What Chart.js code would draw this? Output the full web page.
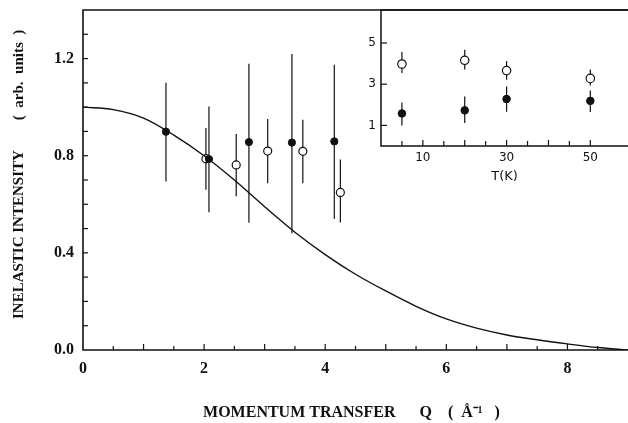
<!DOCTYPE html>
<html>
<head>
<meta charset="utf-8">
<script src="https://cdn.jsdelivr.net/npm/chart.js@4.4.0/dist/chart.umd.min.js"></script>
<style>
  html, body { margin: 0; padding: 0; background: #fff; }
  #marco { position: relative; width: 628px; height: 423px; }
  #principal { position: absolute; left: 0; top: 0; }
  #recuadro { position: absolute; left: 345px; top: 0; }
</style>
</head>
<body>
<div id="marco">
  <canvas id="principal" width="628" height="423"></canvas>
  <canvas id="recuadro" width="283" height="200"></canvas>
</div>
<script>
// Curva teórica
const Q_CURVA = [0, 0.5, 1, 1.5, 2, 2.5, 3, 3.5, 4, 4.5, 5, 5.5, 6, 6.5, 7, 7.5, 8, 8.5, 9];
const I_CURVA = [1.0, 0.99, 0.955, 0.885, 0.80, 0.70, 0.59, 0.485, 0.393, 0.312, 0.243, 0.18, 0.128, 0.09, 0.062, 0.042, 0.025, 0.01, 0.0];

// Puntos llenos
const Q_LLENOS = [1.37, 2.08, 2.74, 3.45, 4.15];
const I_LLENOS = [0.899, 0.786, 0.856, 0.854, 0.859];
const LLENOS_MIN = [0.694, 0.567, 0.524, 0.481, 0.539];
const LLENOS_MAX = [1.100, 1.003, 1.179, 1.219, 1.175];

// Puntos abiertos
const Q_ABIERTOS = [2.03, 2.53, 3.05, 3.63, 4.25];
const I_ABIERTOS = [0.788, 0.762, 0.819, 0.818, 0.649];
const ABIERTOS_MIN = [0.660, 0.633, 0.687, 0.687, 0.525];
const ABIERTOS_MAX = [0.914, 0.889, 0.951, 0.948, 0.784];

// Recuadro: dependencia con la temperatura
const T_RECUADRO = [5, 20, 30, 50];
const T_ABIERTOS = [3.98, 4.16, 3.66, 3.28];
const T_ABIERTOS_MIN = [3.54, 3.71, 3.22, 2.94];
const T_ABIERTOS_MAX = [4.56, 4.67, 4.12, 3.71];
const T_LLENOS = [1.58, 1.73, 2.28, 2.19];
const T_LLENOS_MIN = [1.00, 1.12, 1.66, 1.65];
const T_LLENOS_MAX = [2.11, 2.40, 2.89, 2.69];

// Etiquetas de los ejes
const ETIQUETAS_Q = [0, 2, 4, 6, 8];
const ETIQUETAS_I = [0, 0.4, 0.8, 1.2];
const ETIQUETAS_T = [10, 30, 50];
const ETIQUETAS_TY = [1, 3, 5];

const TINTA = '#111';
const SERIF = '"Liberation Serif", "Times New Roman", serif';
const SANS = '"DejaVu Sans", sans-serif';

const enLista = (lista, v) => lista.some(e => Math.abs(e - v) < 1e-6);
const puntos = (xs, ys) => xs.map((x, i) => ({ x, y: ys[i] }));

// Sin márgenes extra: el área del gráfico llega al borde
function sinRelleno(s) {
  s.paddingLeft = 0;
  s.paddingRight = 0;
  s.paddingTop = 0;
  s.paddingBottom = 0;
}

// Barras de error verticales
const barrasError = {
  id: 'barrasError',
  beforeDatasetsDraw(chart) {
    const ctx = chart.ctx;
    const ex = chart.scales.x, ey = chart.scales.y;
    ctx.save();
    ctx.strokeStyle = TINTA;
    ctx.lineWidth = 1.2;
    chart.data.datasets.forEach(ds => {
      if (!ds.errMin) return;
      ds.data.forEach((p, i) => {
        const px = ex.getPixelForValue(p.x);
        ctx.beginPath();
        ctx.moveTo(px, ey.getPixelForValue(ds.errMin[i]));
        ctx.lineTo(px, ey.getPixelForValue(ds.errMax[i]));
        ctx.stroke();
      });
    });
    ctx.restore();
  }
};

// Marco y marcas hacia dentro
const marcasInternas = {
  id: 'marcasInternas',
  afterDraw(chart, args, opts) {
    const ctx = chart.ctx;
    const a = chart.chartArea;
    ctx.save();
    ctx.strokeStyle = TINTA;
    ctx.lineWidth = opts.grosor || 1.5;
    ctx.beginPath();
    ctx.moveTo(a.right, a.top);
    ctx.lineTo(a.left, a.top);
    ctx.lineTo(a.left, a.bottom);
    ctx.lineTo(a.right, a.bottom);
    ctx.stroke();

    ctx.lineWidth = 1.2;
    const ex = chart.scales.x, ey = chart.scales.y;
    ex.ticks.forEach(t => {
      const v = t.value;
      if (v <= ex.min + 1e-6 || v >= ex.max - 1e-6) return;
      const mayor = Math.abs(v / opts.xPaso - Math.round(v / opts.xPaso)) < 1e-6;
      const px = ex.getPixelForValue(v);
      ctx.beginPath();
      ctx.moveTo(px, a.bottom);
      ctx.lineTo(px, a.bottom - (mayor ? opts.xLargo : opts.xCorto));
      ctx.stroke();
    });
    ey.ticks.forEach(t => {
      const v = t.value;
      if (v <= ey.min + 1e-6 || v >= ey.max - 1e-6) return;
      const py = ey.getPixelForValue(v);
      ctx.beginPath();
      ctx.moveTo(a.left, py);
      ctx.lineTo(a.left + opts.yLargo, py);
      ctx.stroke();
    });
    ctx.restore();
  }
};

// Gráfico principal
new Chart(document.getElementById('principal').getContext('2d'), {
  type: 'scatter',
  data: {
    datasets: [
      {
        data: puntos(Q_CURVA, I_CURVA),
        showLine: true,
        borderColor: TINTA,
        borderWidth: 1.4,
        pointRadius: 0,
        cubicInterpolationMode: 'monotone',
        fill: false
      },
      {
        data: puntos(Q_LLENOS, I_LLENOS),
        errMin: LLENOS_MIN,
        errMax: LLENOS_MAX,
        pointRadius: 3.6,
        pointBackgroundColor: TINTA,
        pointBorderColor: TINTA,
        pointBorderWidth: 1
      },
      {
        data: puntos(Q_ABIERTOS, I_ABIERTOS),
        errMin: ABIERTOS_MIN,
        errMax: ABIERTOS_MAX,
        pointRadius: 4,
        pointBackgroundColor: '#fff',
        pointBorderColor: TINTA,
        pointBorderWidth: 1.2
      }
    ]
  },
  options: {
    responsive: false,
    animation: false,
    layout: { autoPadding: false, padding: { top: 10, right: 0, left: 0, bottom: 0 } },
    plugins: {
      legend: { display: false },
      tooltip: { enabled: false },
      marcasInternas: { grosor: 1.6, xPaso: 1, xLargo: 6, xCorto: 4, yLargo: 5 }
    },
    scales: {
      x: {
        type: 'linear',
        min: 0,
        max: 9,
        grid: { display: false, drawTicks: false },
        border: { display: false },
        afterFit: s => { s.height = 73; sinRelleno(s); },
        ticks: {
          stepSize: 0.5,
          autoSkip: false,
          maxRotation: 0,
          padding: 9,
          color: TINTA,
          font: { family: SERIF, size: 16, weight: 'bold' },
          callback: v => enLista(ETIQUETAS_Q, v) ? String(v) : ''
        },
        title: {
          display: true,
          text: 'MOMENTUM TRANSFER      Q    (  Å⁻¹   )  ',
          color: TINTA,
          font: { family: SERIF, size: 16, weight: 'bold' },
          padding: { top: 0, bottom: 1 }
        }
      },
      y: {
        type: 'linear',
        min: 0,
        max: 1.4,
        grid: { display: false, drawTicks: false },
        border: { display: false },
        afterFit: s => { s.width = 83; sinRelleno(s); },
        ticks: {
          stepSize: 0.1,
          autoSkip: false,
          padding: 9,
          color: TINTA,
          font: { family: SERIF, size: 16, weight: 'bold' },
          callback: v => enLista(ETIQUETAS_I, v) ? v.toFixed(1) : ''
        },
        title: {
          display: true,
          text: '   INELASTIC INTENSITY        (  arb.  units  )',
          color: TINTA,
          font: { family: SERIF, size: 15, weight: 'bold' },
          padding: { top: 10, bottom: 0 }
        }
      }
    }
  },
  plugins: [barrasError, marcasInternas]
});

// Recuadro
new Chart(document.getElementById('recuadro').getContext('2d'), {
  type: 'scatter',
  data: {
    datasets: [
      {
        data: puntos(T_RECUADRO, T_ABIERTOS),
        errMin: T_ABIERTOS_MIN,
        errMax: T_ABIERTOS_MAX,
        pointRadius: 4.2,
        pointBackgroundColor: '#fff',
        pointBorderColor: TINTA,
        pointBorderWidth: 1.2
      },
      {
        data: puntos(T_RECUADRO, T_LLENOS),
        errMin: T_LLENOS_MIN,
        errMax: T_LLENOS_MAX,
        pointRadius: 3.8,
        pointBackgroundColor: TINTA,
        pointBorderColor: TINTA,
        pointBorderWidth: 1
      }
    ]
  },
  options: {
    responsive: false,
    animation: false,
    layout: { autoPadding: false, padding: { top: 10, right: 0, left: 0, bottom: 0 } },
    plugins: {
      legend: { display: false },
      tooltip: { enabled: false },
      marcasInternas: { grosor: 1.5, xPaso: 10, xLargo: 6, xCorto: 5, yLargo: 6 }
    },
    scales: {
      x: {
        type: 'linear',
        min: 0,
        max: 59,
        grid: { display: false, drawTicks: false },
        border: { display: false },
        afterFit: s => { s.height = 54; sinRelleno(s); },
        ticks: {
          stepSize: 5,
          autoSkip: false,
          maxRotation: 0,
          padding: 5,
          color: TINTA,
          font: { family: SANS, size: 12 },
          callback: v => enLista(ETIQUETAS_T, v) ? String(v) : ''
        },
        title: {
          display: true,
          text: 'T(K)',
          color: TINTA,
          font: { family: SANS, size: 13 },
          padding: { top: 0, bottom: 16 }
        }
      },
      y: {
        type: 'linear',
        min: 0,
        max: 6.6,
        grid: { display: false, drawTicks: false },
        border: { display: false },
        afterFit: s => { s.width = 36; sinRelleno(s); },
        afterBuildTicks: s => { s.ticks = ETIQUETAS_TY.map(v => ({ value: v })); },
        ticks: {
          autoSkip: false,
          padding: 5,
          color: TINTA,
          font: { family: SANS, size: 12 },
          callback: v => String(v)
        }
      }
    }
  },
  plugins: [barrasError, marcasInternas]
});
</script>
</body>
</html>
